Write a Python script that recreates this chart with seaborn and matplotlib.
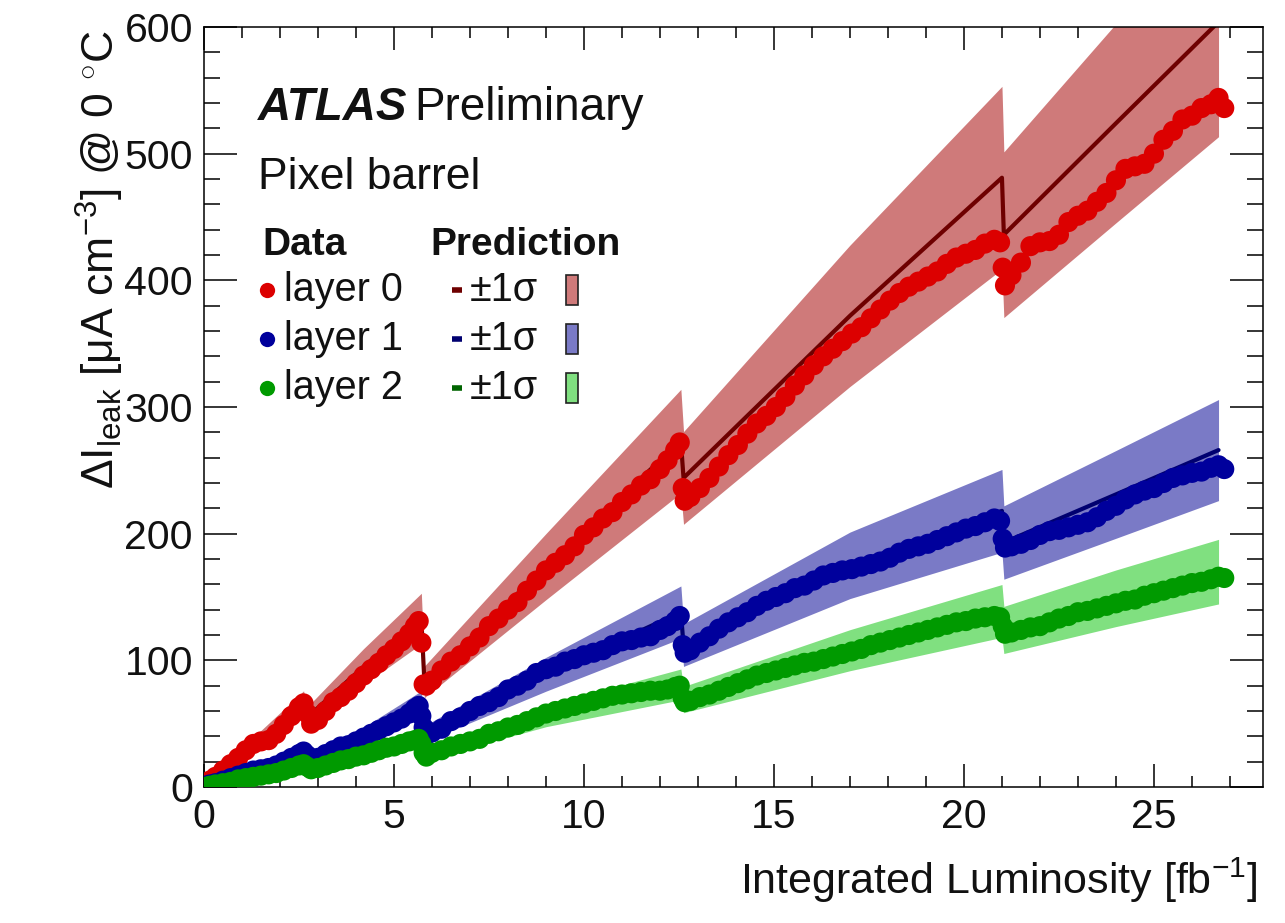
import numpy as np
import pandas as pd
import matplotlib
matplotlib.use("Agg")
import matplotlib.pyplot as plt
import seaborn as sns
from matplotlib.lines import Line2D
from matplotlib.patches import Rectangle
from matplotlib.ticker import MultipleLocator

# ------------------------------------------------------------
# DATA
# ------------------------------------------------------------
lumi = [0.0, 0.15, 0.3, 0.5, 0.7, 0.9, 1.1, 1.3, 1.5, 1.7, 1.9, 2.1, 2.3, 2.5, 2.62,
        2.72, 2.82,
        3.0, 3.2, 3.4, 3.6, 3.8, 4.0, 4.2, 4.4, 4.6, 4.8, 5.0, 5.2, 5.4, 5.55, 5.65, 5.72,
        5.78, 5.85,
        6.0, 6.25, 6.5, 6.75, 7.0, 7.25, 7.5, 7.75, 8.0, 8.25, 8.5, 8.75, 9.0, 9.25,
        9.5, 9.75, 10.0, 10.25, 10.5, 10.75, 11.0, 11.25, 11.5, 11.75, 12.0, 12.2, 12.4, 12.52,
        12.6, 12.65,
        12.8, 13.05, 13.3, 13.55, 13.8, 14.05, 14.3, 14.55, 14.8, 15.05, 15.3, 15.55, 15.8,
        16.05, 16.3, 16.55, 16.8, 17.05, 17.3, 17.55, 17.8, 18.05, 18.3, 18.55, 18.8, 19.05,
        19.3, 19.55, 19.8, 20.05, 20.3, 20.55, 20.8, 20.95,
        21.02, 21.08,
        21.25, 21.5, 21.75, 22.0, 22.25, 22.5, 22.75, 23.0, 23.25, 23.5, 23.75, 24.0, 24.25,
        24.5, 24.75, 25.0, 25.25, 25.5, 25.75, 26.0, 26.25, 26.5, 26.7, 26.85]

layer0 = [2, 5, 8, 13, 18, 23, 29, 34, 36, 37, 42, 49, 56, 63, 66,
          58, 50,
          53, 60, 67, 71, 76, 82, 88, 93, 98, 104, 109, 115, 121, 127, 131, 114,
          81, 80,
          84, 92, 99, 104, 111, 118, 127, 133, 140, 146, 155, 163, 171, 177,
          183, 190, 199, 205, 212, 217, 225, 231, 238, 243, 251, 258, 266, 272,
          236, 226,
          229, 236, 244, 253, 262, 270, 279, 287, 293, 300, 308, 317, 325,
          333, 340, 346, 352, 358, 363, 370, 377, 384, 390, 395, 399, 403,
          407, 413, 418, 421, 424, 429, 432, 430,
          410, 396,
          404, 414, 427, 430, 431, 436, 446, 451, 455, 462, 469, 479, 488,
          490, 492, 500, 511, 518, 527, 530, 536, 539, 544, 536]

layer1 = [1, 2, 3, 5, 7, 9, 11, 13, 14, 15, 17, 20, 23, 26, 28,
          25, 22,
          23, 26, 29, 32, 33, 36, 39, 42, 45, 48, 51, 54, 58, 62, 64, 56,
          47, 41,
          43, 46, 52, 55, 60, 64, 67, 71, 77, 80, 84, 90, 93, 95,
          99, 101, 104, 106, 108, 112, 115, 116, 118, 119, 124, 127, 131, 135,
          112, 106,
          108, 114, 119, 125, 130, 134, 138, 143, 147, 150, 153, 157, 159,
          163, 167, 169, 171, 172, 174, 176, 178, 181, 185, 188, 190, 192,
          195, 198, 201, 204, 206, 209, 212, 210,
          196, 189,
          190, 192, 195, 199, 202, 203, 205, 207, 209, 213, 218, 222, 227,
          231, 234, 236, 240, 244, 246, 248, 249, 252, 254, 251]

layer2 = [0, 1, 2, 3, 4, 6, 7, 8, 9, 10, 11, 13, 15, 17, 18,
          16, 14,
          15, 17, 19, 21, 22, 24, 25, 27, 29, 31, 32, 34, 36, 37, 38, 34,
          27, 24,
          27, 29, 32, 34, 36, 38, 42, 44, 47, 49, 52, 55, 58, 60,
          62, 64, 66, 68, 70, 72, 73, 74, 75, 76, 76, 77, 79, 80,
          70, 67,
          68, 71, 73, 76, 79, 82, 85, 88, 90, 92, 94, 96, 98,
          99, 101, 103, 105, 107, 109, 112, 114, 116, 118, 120, 122, 124,
          126, 128, 130, 131, 133, 134, 135, 134,
          127, 121,
          122, 124, 126, 127, 130, 133, 135, 138, 139, 141, 143, 145, 147,
          148, 151, 153, 155, 157, 159, 161, 162, 164, 166, 165]

# prediction, with the annealing drops
pred_lumi = [0.0, 1.3, 2.62, 2.72, 4.2, 5.72, 5.80, 9.0, 12.55, 12.62, 17.0, 21.0, 21.05, 24.0, 26.7]
pred0 = [0, 34, 66, 55, 95, 133, 83, 174, 273, 244, 372, 481, 436, 524, 604]
pred1 = [0, 13, 27, 23, 41, 66, 42, 89, 138, 112, 175, 218, 193, 231, 266]
pred2 = [0, 8, 18, 15, 26, 39, 25, 56, 81, 69, 108, 139, 124, 149, 170]
rel_sigma = 0.15   # relative uncertainty of the prediction

layer_names = ["layer 0", "layer 1", "layer 2"]
data_colors = ["#dc0000", "#00009c", "#009a00"]
pred_colors = ["#6e0000", "#000070", "#006400"]
band_colors = ["#cf7a7a", "#7a7ac6", "#80e080"]

df = pd.concat([
    pd.DataFrame({"lumi": lumi, "ileak": vals, "layer": name})
    for name, vals in zip(layer_names, [layer0, layer1, layer2])
])

# ------------------------------------------------------------
# STYLE
# ------------------------------------------------------------
sns.set_theme(style="ticks")
plt.rcParams["font.family"] = ["Liberation Sans", "DejaVu Sans"]
plt.rcParams["mathtext.fontset"] = "custom"
plt.rcParams["mathtext.rm"] = "Liberation Sans"
plt.rcParams["mathtext.it"] = "Liberation Sans:italic"
plt.rcParams["mathtext.bf"] = "Liberation Sans:bold"

W, H = 1285, 923
fig = plt.figure(figsize=(W / 100, H / 100), dpi=100)
ax = fig.add_axes([204 / W, 1 - 787 / H, (1263 - 204) / W, (787 - 27) / H])


def fpx(x, y):
    return x / W, 1 - y / H


TXT = "#111111"

# ------------------------------------------------------------
# BANDS, PREDICTION, DATA
# ------------------------------------------------------------
for pred, bc, pc in zip([pred0, pred1, pred2], band_colors, pred_colors):
    p = np.array(pred, dtype=float)
    ax.fill_between(pred_lumi, p * (1 - rel_sigma), p * (1 + rel_sigma),
                    color=bc, lw=0, zorder=1)
    ax.plot(pred_lumi, p, color=pc, lw=3, zorder=2)

sns.scatterplot(data=df, x="lumi", y="ileak", hue="layer",
                palette=dict(zip(layer_names, data_colors)),
                s=210, linewidth=0, legend=False, ax=ax, zorder=3)

# ------------------------------------------------------------
# AXES
# ------------------------------------------------------------
ax.set_xlim(0, 27.87)
ax.set_ylim(0, 600)
ax.xaxis.set_major_locator(MultipleLocator(5))
ax.xaxis.set_minor_locator(MultipleLocator(1))
ax.yaxis.set_major_locator(MultipleLocator(100))
ax.yaxis.set_minor_locator(MultipleLocator(20))
ax.tick_params(which="both", direction="in", top=True, right=True,
               width=1.1, color="black", labelsize=29.5, labelcolor=TXT)
ax.tick_params(axis="y", which="major", length=24, pad=8)
ax.tick_params(axis="y", which="minor", length=11.5)
ax.tick_params(axis="x", which="major", length=16.5, pad=8)
ax.tick_params(axis="x", which="minor", length=8)
for sp in ax.spines.values():
    sp.set_linewidth(1.1)
    sp.set_color("black")
ax.set_xlabel("")
ax.set_ylabel("")

fig.text(*fpx(1258, 880), "Integrated Luminosity [fb$^{\\mathregular{-1}}$]",
         ha="right", va="center", fontsize=31, color=TXT)
fig.text(*fpx(100, 30),
         "$\\mathregular{\\Delta I_{leak}}$ [$\\mathregular{\\mu}$A cm$^{\\mathregular{-3}}$] @ 0 $^{\\circ}$C",
         rotation=90, ha="center", va="top", fontsize=32, color=TXT)

# ------------------------------------------------------------
# LABELS / LEGEND (ROOT-like, drawn by hand)
# ------------------------------------------------------------
fig.text(*fpx(258, 108), "ATLAS", fontsize=33, fontweight="bold", fontstyle="italic",
         ha="left", va="center", color=TXT)
fig.text(*fpx(414, 108), "Preliminary", fontsize=33, ha="left", va="center", color=TXT)
fig.text(*fpx(258, 178), "Pixel barrel", fontsize=32, ha="left", va="center", color=TXT)

fig.text(*fpx(262, 245), "Data", fontsize=28, fontweight="bold", ha="left", va="center", color=TXT)
fig.text(*fpx(430, 245), "Prediction", fontsize=28, fontweight="bold", ha="left", va="center", color=TXT)

row_y = [290, 339, 388]
for yy, name, dc, pc, bc in zip(row_y, layer_names, data_colors, pred_colors, band_colors):
    fig.add_artist(Line2D([267 / W], [1 - yy / H], marker="o", markersize=11, color=dc,
                          markeredgewidth=0, transform=fig.transFigure))
    fig.text(*fpx(284, yy), name, fontsize=28.5, ha="left", va="center", color=TXT)
    fig.add_artist(Line2D([452 / W, 462 / W], [1 - yy / H, 1 - yy / H], color=pc, lw=4,
                          solid_capstyle="butt", transform=fig.transFigure))
    fig.text(*fpx(470, yy), "±1σ", fontsize=28.5, ha="left", va="center", color=TXT)
    fig.add_artist(Rectangle(fpx(566, yy + 15), 12 / W, 30 / H, facecolor=bc,
                             edgecolor="#222222", lw=1.2, transform=fig.transFigure))

fig.savefig("out.png", dpi=100)
